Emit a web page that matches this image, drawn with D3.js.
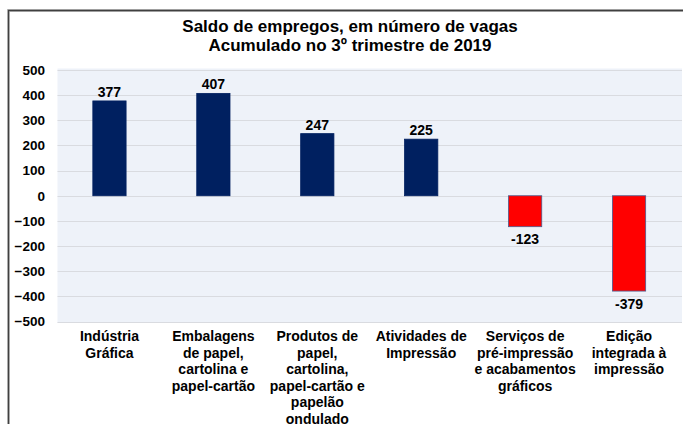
<!DOCTYPE html>
<html>
<head>
<meta charset="utf-8">
<script src="https://cdn.jsdelivr.net/npm/d3@7"></script>
<style>
  body { margin: 0; background: #fff; }
  text { font-family: "Liberation Sans", Arial, sans-serif; font-weight: bold; fill: #000; }
</style>
</head>
<body>
<div id="chart"></div>
<script>
const titleLines = ["Saldo de empregos, em número de vagas", "Acumulado no 3º trimestre de 2019"];
const categories = [
  ["Indústria", "Gráfica"],
  ["Embalagens", "de papel,", "cartolina e", "papel-cartão"],
  ["Produtos de", "papel,", "cartolina,", "papel-cartão e", "papelão", "ondulado"],
  ["Atividades de", "Impressão"],
  ["Serviços de", "pré-impressão", "e acabamentos", "gráficos"],
  ["Edição", "integrada à", "impressão"]
];
const values = [377, 407, 247, 225, -123, -379];
const yTicks = [500, 400, 300, 200, 100, 0, -100, -200, -300, -400, -500];

const W = 683, H = 424;
const margin = {left: 57.5, right: 2, top: 70, bottom: 103};

const svg = d3.select("#chart").append("svg")
  .attr("width", W)
  .attr("height", H);

const x = d3.scaleBand()
  .domain(d3.range(categories.length))
  .range([margin.left, W - margin.right])
  .paddingInner(0.68)
  .paddingOuter(0.34);

const y = d3.scaleLinear()
  .domain([-500, 500])
  .range([H - margin.bottom + 0.5, margin.top]);

// frame
svg.append("path")
  .attr("d", `M8.5,${H} L8.5,10.5 L${W},10.5`)
  .attr("fill", "none")
  .attr("stroke", "#bfbfbf")
  .attr("stroke-width", 3);
svg.append("path")
  .attr("d", `M8.5,${H} L8.5,10.5 L${W},10.5`)
  .attr("fill", "none")
  .attr("stroke", "#404040")
  .attr("stroke-width", 1.3);

// title
svg.append("text")
  .attr("x", 350)
  .attr("text-anchor", "middle")
  .style("font-size", "17px")
  .selectAll("tspan")
  .data(titleLines)
  .join("tspan")
  .attr("x", 350)
  .attr("y", (d, i) => 32 + i * 19)
  .text(d => d);

// plot background
svg.append("rect")
  .attr("x", margin.left)
  .attr("y", y(500) - 1.5)
  .attr("width", W - margin.right - margin.left + 1)
  .attr("height", y(-500) - y(500) + 3)
  .attr("fill", "#eef2f9");

// grid lines
svg.append("g")
  .selectAll("line")
  .data(yTicks)
  .join("line")
  .attr("x1", margin.left)
  .attr("x2", W - margin.right + 1)
  .attr("y1", d => Math.round(y(d)) + 0.5)
  .attr("y2", d => Math.round(y(d)) + 0.5)
  .attr("stroke", "#d9dbe0")
  .attr("stroke-width", 1);

// y axis labels
const yAxis = svg.append("g")
  .attr("transform", `translate(45,0)`)
  .call(d3.axisLeft(y).tickValues(yTicks).tickSize(0).tickPadding(0));
yAxis.select(".domain").remove();
yAxis.selectAll("text")
  .style("font-size", "13.5px")
  .style("font-family", "'Liberation Sans', Arial, sans-serif")
  .attr("fill", "#000");

// bars
svg.append("g")
  .selectAll("rect")
  .data(values)
  .join("rect")
  .attr("x", (d, i) => x(i))
  .attr("y", d => y(Math.max(0, d)))
  .attr("width", x.bandwidth())
  .attr("height", d => Math.abs(y(d) - y(0)))
  .attr("fill", d => d >= 0 ? "#002060" : "#ff0000")
  .attr("stroke", d => d >= 0 ? "#002060" : "#4a5d8f")
  .attr("stroke-width", 0.8);

// value labels
svg.append("g")
  .selectAll("text")
  .data(values)
  .join("text")
  .attr("x", (d, i) => x(i) + x.bandwidth() / 2)
  .attr("y", d => d >= 0 ? y(d) - 4 : y(d) + 17.5)
  .attr("text-anchor", "middle")
  .style("font-size", "14px")
  .text(d => d);

// category labels
const cat = svg.append("g")
  .selectAll("text")
  .data(categories)
  .join("text")
  .attr("text-anchor", "middle")
  .style("font-size", "14px");
cat.selectAll("tspan")
  .data((d, i) => d.map(line => ({line, i})))
  .join("tspan")
  .attr("x", d => x(d.i) + x.bandwidth() / 2)
  .attr("y", (d, j) => 341 + j * 16.5)
  .text(d => d.line);
</script>
</body>
</html>
